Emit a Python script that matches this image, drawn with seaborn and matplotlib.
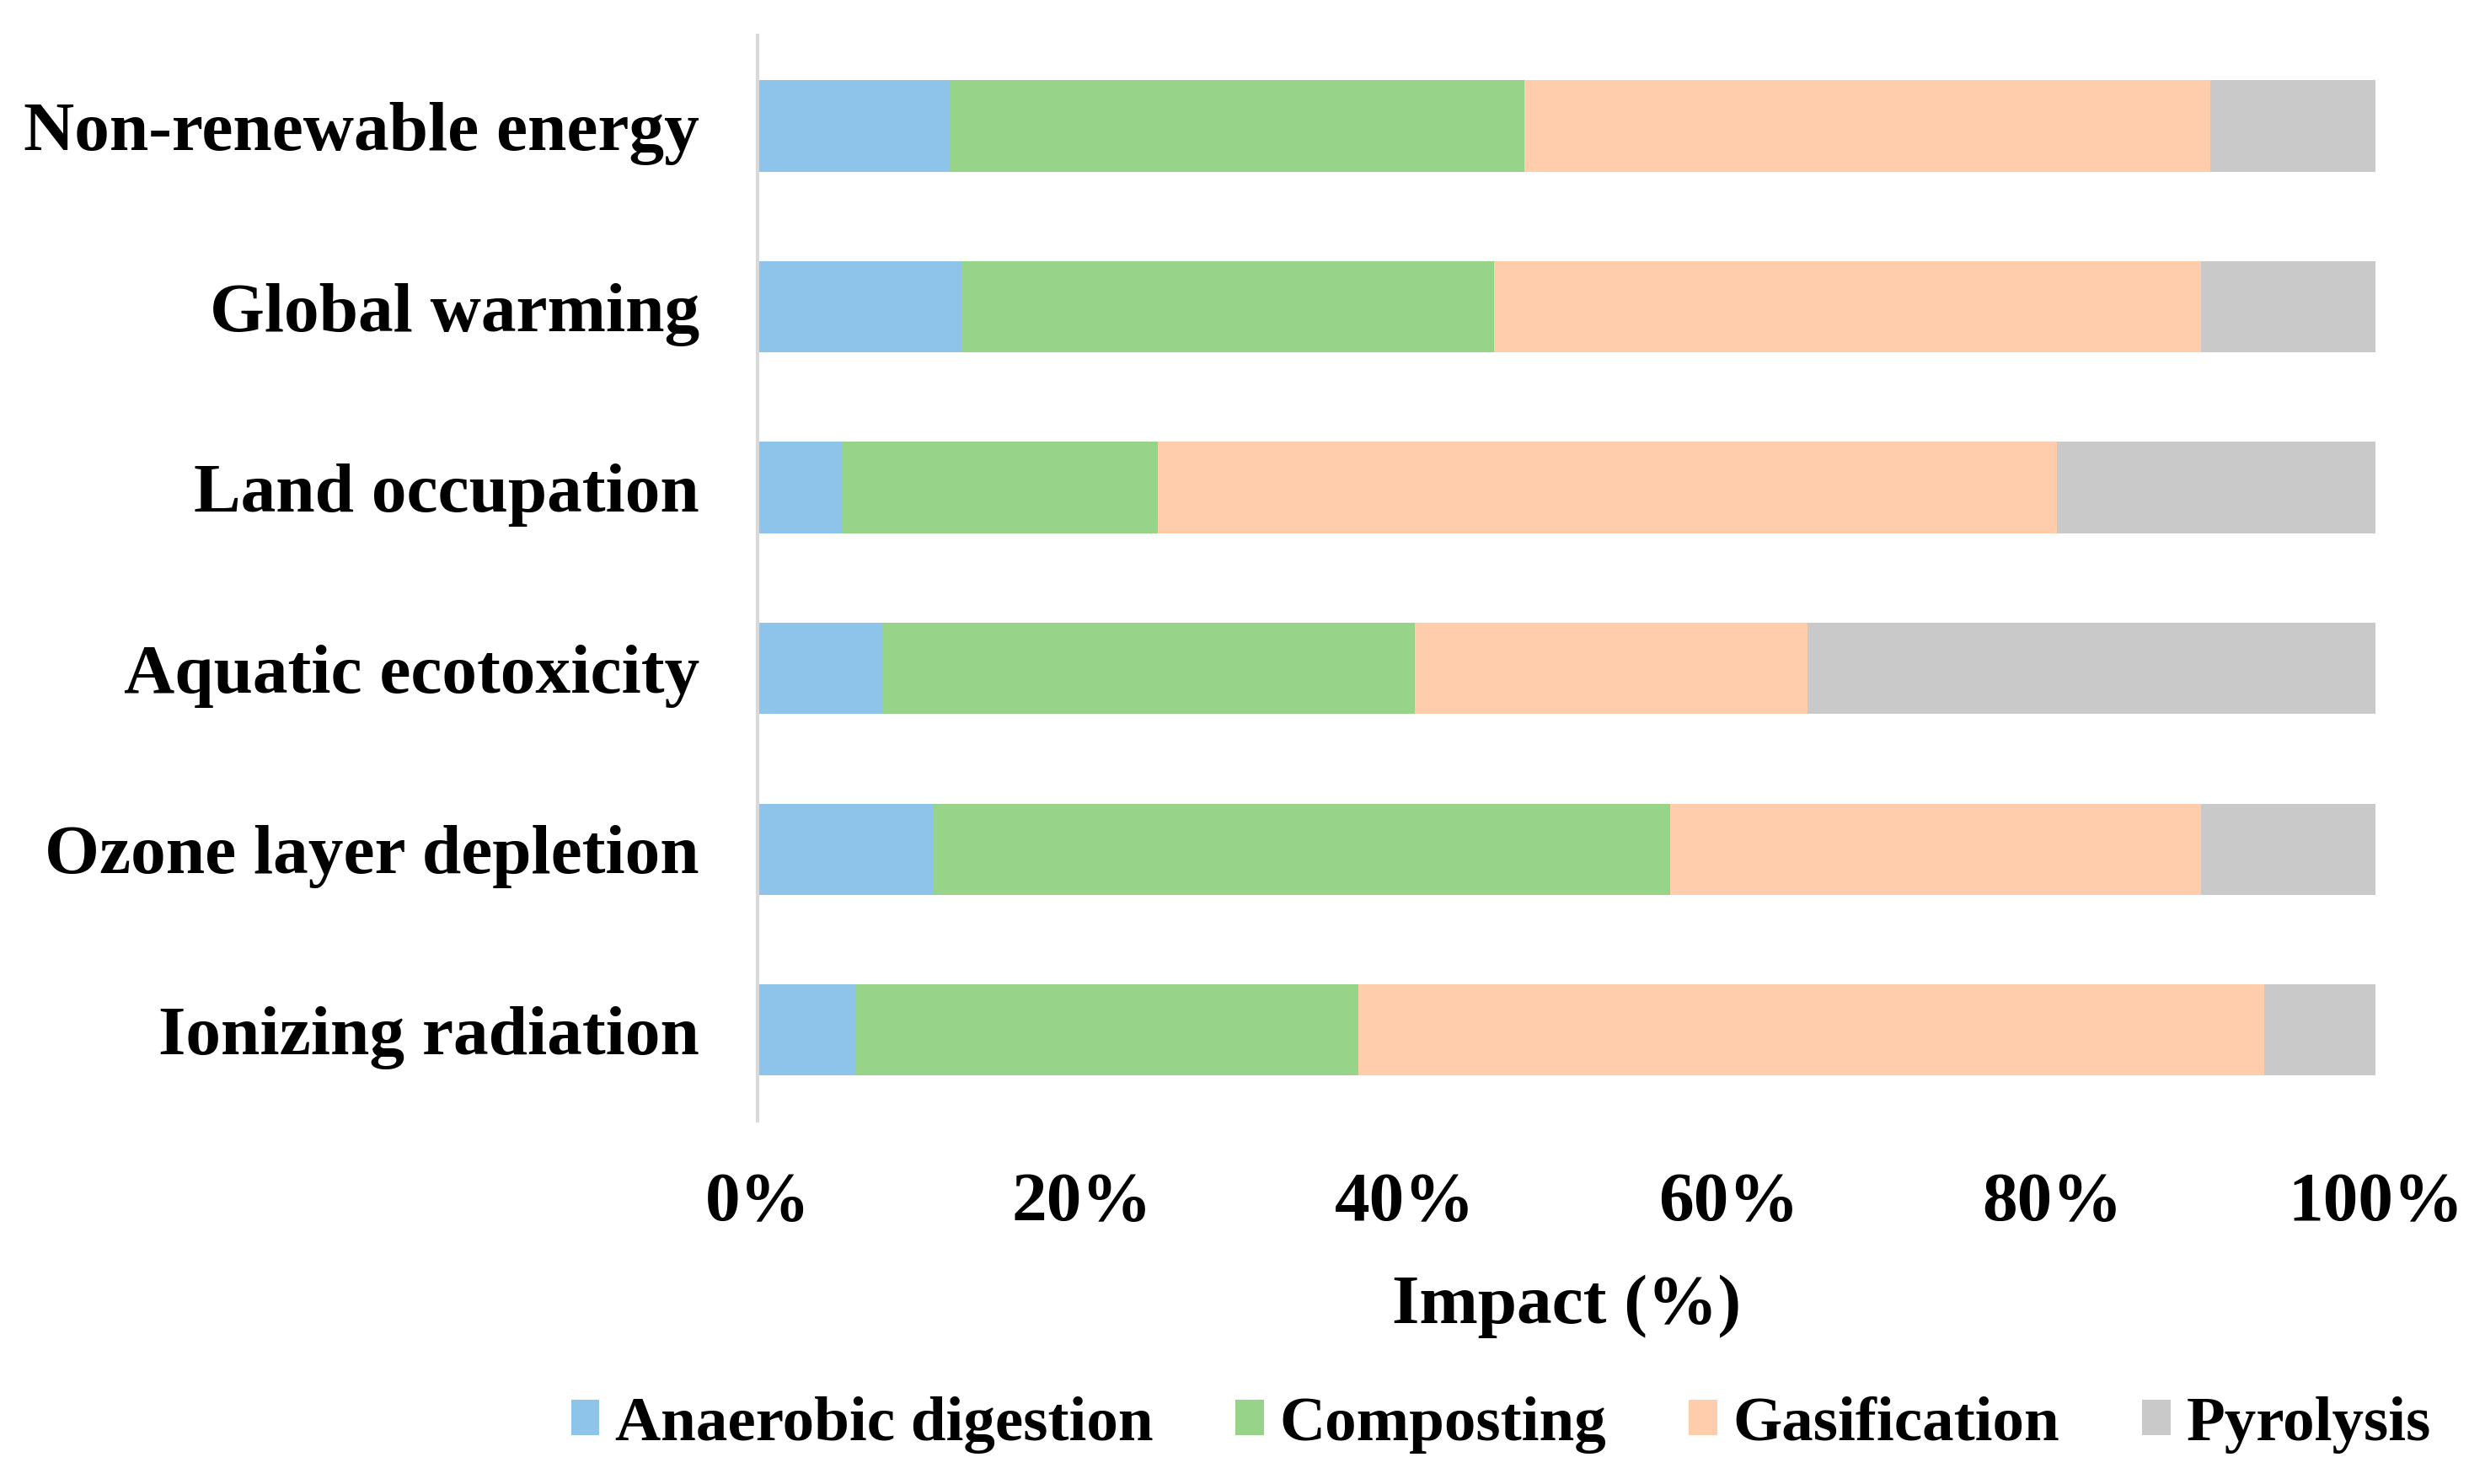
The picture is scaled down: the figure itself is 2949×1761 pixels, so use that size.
import numpy as np
import pandas as pd
import seaborn as sns
import matplotlib
matplotlib.use("Agg")
import matplotlib.pyplot as plt
from matplotlib.patches import Patch

categories = ["Non-renewable energy", "Global warming", "Land occupation",
              "Aquatic ecotoxicity", "Ozone layer depletion", "Ionizing radiation"]
series = ["Anaerobic digestion", "Composting", "Gasification", "Pyrolysis"]
anaerobic = [11.9, 12.6, 5.2, 7.7, 10.8, 6.0]
composting = [35.5, 32.9, 19.5, 32.9, 45.6, 31.1]
gasification = [42.4, 43.7, 55.6, 24.3, 32.8, 56.0]
pyrolysis = [10.2, 10.8, 19.7, 35.1, 10.8, 6.9]
xticks = [0, 20, 40, 60, 80, 100]
xticklabels = ["0%", "20%", "40%", "60%", "80%", "100%"]

colors = ["#8EC4E9", "#98D38A", "#FFCCAC", "#C9C9C9"]

df = pd.DataFrame({"category": categories,
                   series[0]: anaerobic, series[1]: composting,
                   series[2]: gasification, series[3]: pyrolysis})

sns.set_style("white")
plt.rcParams["font.family"] = ["Liberation Serif", "DejaVu Serif"]
plt.rcParams["font.weight"] = "bold"
plt.rcParams["text.color"] = "black"
plt.rcParams["xtick.color"] = "black"
plt.rcParams["ytick.color"] = "black"
plt.rcParams["axes.labelcolor"] = "black"

fig = plt.figure(figsize=(14.745, 8.805), dpi=200)
ax = fig.add_axes([0.305, 0.245, 0.651, 0.731])

cum = df[series].cumsum(axis=1)
for s, c in reversed(list(zip(series, colors))):
    sns.barplot(x=cum[s], y=df["category"], orient="h", color=c,
                width=0.505, ax=ax, linewidth=0, saturation=1)

ax.set_xlim(0, 100)
ax.set_ylim(5.5, -0.5)
ax.set_xticks(xticks)
ax.set_xticklabels(xticklabels, fontsize=30, fontweight="bold", color="black")
ax.tick_params(axis="x", length=0, pad=22)
ax.tick_params(axis="y", length=0, pad=25, labelsize=30)
for lab in ax.get_yticklabels():
    lab.set_fontweight("bold")
    lab.set_color("black")
ax.set_ylabel("")
ax.set_xlabel("Impact (%)", fontsize=30, fontweight="bold", labelpad=17, color="black")

for sp in ["top", "right", "bottom"]:
    ax.spines[sp].set_visible(False)
ax.spines["left"].set_color("#D9D9D9")
ax.spines["left"].set_linewidth(1.5)

handles = [Patch(facecolor=c, edgecolor="none", label=s) for s, c in zip(series, colors)]
leg = fig.legend(handles=handles, loc="center", bbox_to_anchor=(0.604, 0.040), ncol=4,
                 frameon=False, prop={"family": "Liberation Serif", "weight": "bold", "size": 27},
                 handlelength=0.45, handleheight=0.48, handletextpad=0.25, columnspacing=1.3)
for t in leg.get_texts():
    t.set_color("black")

fig.savefig("out.png", dpi=200, facecolor="white")
